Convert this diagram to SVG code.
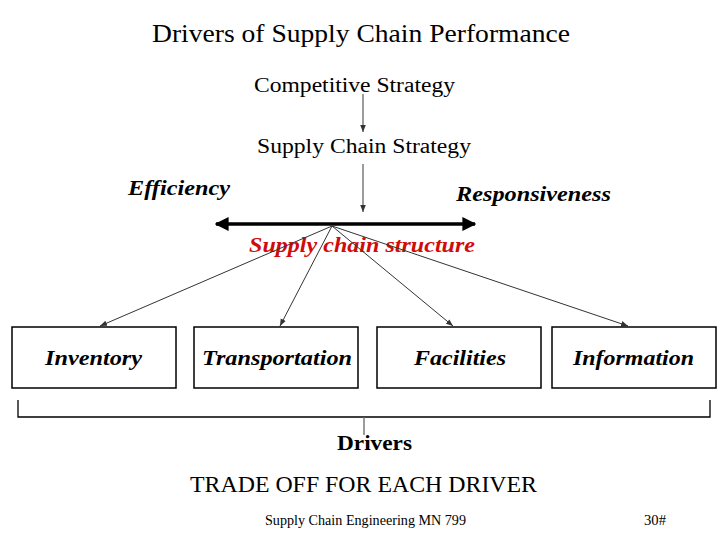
<svg xmlns="http://www.w3.org/2000/svg" width="728" height="546" viewBox="0 0 728 546" font-family="'Liberation Serif', 'Times New Roman', Times, serif">
<defs>
<marker id="ah" viewBox="0 0 10 10" refX="10" refY="5" markerWidth="7" markerHeight="7" markerUnits="userSpaceOnUse" orient="auto">
<path d="M0,1 L10,5 L0,9 z" fill="#333"/>
</marker>
<marker id="ahb" viewBox="0 0 10 10" refX="9" refY="5" markerWidth="4" markerHeight="4" orient="auto-start-reverse">
<path d="M0,0 L10,5 L0,10 z" fill="#000"/>
</marker>
</defs>
<style>
.t{fill:#000}
.bi{font-weight:bold;font-style:italic;fill:#000}
.box{fill:#fff;stroke:#000;stroke-width:1.5}
.con{stroke:#333;stroke-width:1;fill:none}
.g{stroke:#666;stroke-width:1.3;fill:none}
</style>
<rect width="728" height="546" fill="#fff"/>
<text class="t" x="152" y="42" font-size="25" textLength="418" lengthAdjust="spacingAndGlyphs">Drivers of Supply Chain Performance</text>
<text class="t" x="254" y="92" font-size="20" textLength="201" lengthAdjust="spacingAndGlyphs">Competitive Strategy</text>
<text class="t" x="257" y="153" font-size="20" textLength="214" lengthAdjust="spacingAndGlyphs">Supply Chain Strategy</text>
<text class="bi" x="128" y="195" font-size="21" textLength="102" lengthAdjust="spacingAndGlyphs">Efficiency</text>
<text class="bi" x="456" y="201" font-size="21" textLength="155" lengthAdjust="spacingAndGlyphs">Responsiveness</text>
<text class="bi" x="249" y="252" font-size="21" style="fill:#d10a0a" textLength="226" lengthAdjust="spacingAndGlyphs">Supply chain structure</text>
<g id="connectors">
<line class="g" x1="363" y1="94" x2="363" y2="132" marker-end="url(#ah)"/>
<line class="g" x1="363" y1="164" x2="363" y2="212" marker-end="url(#ah)"/>
<line x1="216" y1="224" x2="475" y2="224" stroke="#000" stroke-width="3.5" marker-start="url(#ahb)" marker-end="url(#ahb)"/>
<line class="con" x1="332" y1="226" x2="100" y2="326" marker-end="url(#ah)"/>
<line class="con" x1="332" y1="226" x2="280" y2="326" marker-end="url(#ah)"/>
<line class="con" x1="332" y1="226" x2="453" y2="326" marker-end="url(#ah)"/>
<line class="con" x1="332" y1="226" x2="628" y2="326" marker-end="url(#ah)"/>
<path d="M18,400 V417 H710 V400" stroke="#000" stroke-width="1.3" fill="none"/>
<line class="g" x1="364" y1="417" x2="364" y2="435"/>
</g>
<g id="inventory">
<rect class="box" x="12" y="327" width="164" height="61"/>
<text class="bi" x="45" y="365" font-size="21" textLength="97" lengthAdjust="spacingAndGlyphs">Inventory</text>
</g>
<g id="transportation">
<rect class="box" x="194" y="327" width="164" height="61"/>
<text class="bi" x="202" y="365" font-size="21" textLength="150" lengthAdjust="spacingAndGlyphs">Transportation</text>
</g>
<g id="facilities">
<rect class="box" x="377" y="327" width="164" height="61"/>
<text class="bi" x="414" y="365" font-size="21" textLength="92" lengthAdjust="spacingAndGlyphs">Facilities</text>
</g>
<g id="information">
<rect class="box" x="552" y="327" width="164" height="61"/>
<text class="bi" x="573" y="365" font-size="21" textLength="121" lengthAdjust="spacingAndGlyphs">Information</text>
</g>
<text class="t" x="337" y="450" font-size="21" font-weight="bold" textLength="75" lengthAdjust="spacingAndGlyphs">Drivers</text>
<text class="t" x="190" y="492" font-size="24" textLength="347" lengthAdjust="spacingAndGlyphs">TRADE OFF FOR EACH DRIVER</text>
<text class="t" x="265" y="525" font-size="14" textLength="201" lengthAdjust="spacingAndGlyphs">Supply Chain Engineering MN 799</text>
<text class="t" x="644" y="525" font-size="14" textLength="22" lengthAdjust="spacingAndGlyphs">30#</text>
</svg>
